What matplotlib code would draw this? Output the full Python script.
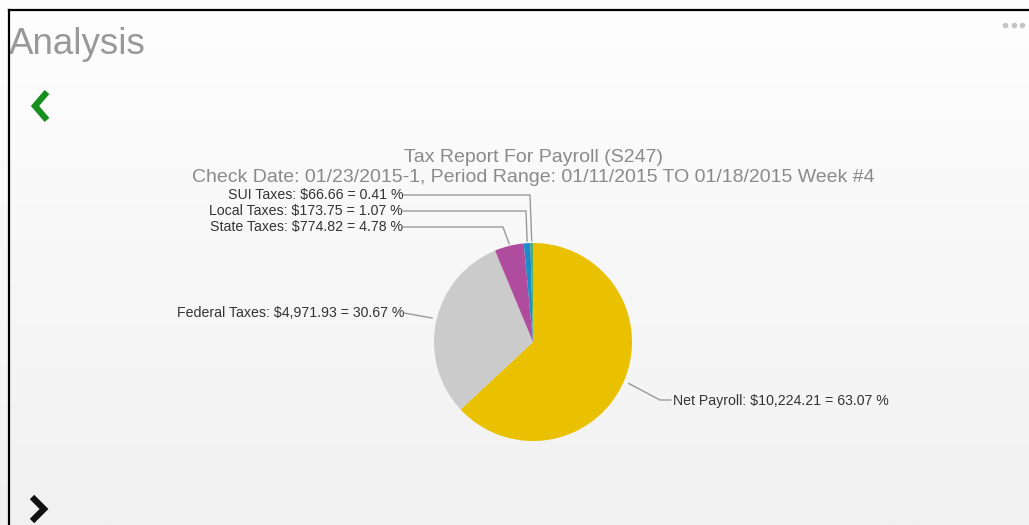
import numpy as np
import matplotlib.pyplot as plt
from matplotlib.colors import LinearSegmentedColormap

plt.rcParams["font.family"] = ["Liberation Sans", "DejaVu Sans"]

# data
categories = ["Net Payroll", "Federal Taxes", "State Taxes", "Local Taxes", "SUI Taxes"]
amounts = [10224.21, 4971.93, 774.82, 173.75, 66.66]
colors = ["#EAC100", "#CBCBCB", "#B04C9E", "#1E8BC8", "#4FAE6A"]

title_lines = [
    "Tax Report For Payroll (S247)",
    "Check Date: 01/23/2015-1, Period Range: 01/11/2015 TO 01/18/2015 Week #4",
]

W, H = 1029, 525
fig = plt.figure(figsize=(W / 100, H / 100), dpi=100)
ax = fig.add_axes([0, 0, 1, 1])

# soft background gradient, white at top to light gray
grad = np.linspace(0, 1, 256).reshape(-1, 1)
bg = LinearSegmentedColormap.from_list("bg", ["#FEFEFE", "#F1F1F1"])
ax.imshow(grad, extent=(0, W, H, 0), cmap=bg, aspect="auto", zorder=0)

cx, cy, r = 533, 342, 99
total = sum(amounts)
wedges, _ = ax.pie(amounts, colors=colors, center=(cx, cy), radius=r,
                   startangle=-90, counterclock=True, frame=True,
                   wedgeprops=dict(linewidth=0))
for w in wedges:
    w.set_zorder(2)

ax.set_xlim(0, W)
ax.set_ylim(H, 0)
ax.set_aspect("equal")
ax.axis("off")


def label_text(name, amt):
    return f"{name}: ${amt:,.2f} = {amt / total * 100:.2f} %"


def edge_point(i):
    start = sum(amounts[:i]) / total * 360
    mid = start + amounts[i] / total * 360 / 2
    a = np.deg2rad(mid - 90)
    return cx + r * np.cos(a), cy + r * np.sin(a)


line_kw = dict(color="#9A9A9A", lw=1, zorder=1)
txt_kw = dict(fontsize=10.2, color="#333333", va="center")

# Net Payroll (right side)
px, py = edge_point(0)
ax.plot([px + 5, 660, 671], [py + 2, 400, 400], **line_kw)
ax.text(673, 401, label_text(categories[0], amounts[0]), ha="left", **txt_kw)

# Federal Taxes (left side)
ax.plot([404, 432], [313, 318], **line_kw)
ax.text(404, 313, label_text(categories[1], amounts[1]), ha="right", **txt_kw)

# small slices stacked above the pie
stack = [(2, 227, 503), (3, 211, 526), (4, 195, 530)]
for i, ly, bend in stack:
    px, py = edge_point(i)
    ax.plot([403, bend, px], [ly, ly, py - 2], **line_kw)
    ax.text(403, ly, label_text(categories[i], amounts[i]), ha="right", **txt_kw)

# title
ax.text(cx, 157, title_lines[0], ha="center", va="center", fontsize=14, color="#8A8A8A")
ax.text(cx, 177, title_lines[1], ha="center", va="center", fontsize=14, color="#8A8A8A")

# panel header and frame
ax.text(9, 44, "Analysis", ha="left", va="center", fontsize=26.5, color="#999999")
ax.plot([9, W], [10, 10], color="black", lw=1.6, zorder=5)
ax.plot([9, 9], [10, H], color="black", lw=1.6, zorder=5)
for dx in (1005, 1014, 1022):
    ax.plot(dx, 25, "o", color="#C4C4C4", ms=3, zorder=5)

# navigation chevrons
ax.plot([47, 35, 47], [92, 106, 120], color="#16901E", lw=4.5,
        solid_capstyle="butt", solid_joinstyle="miter", zorder=5)
ax.plot([32, 44, 32], [497, 509, 521], color="#111111", lw=4.5,
        solid_capstyle="butt", solid_joinstyle="miter", zorder=5)

fig.savefig("out.png", dpi=100)
